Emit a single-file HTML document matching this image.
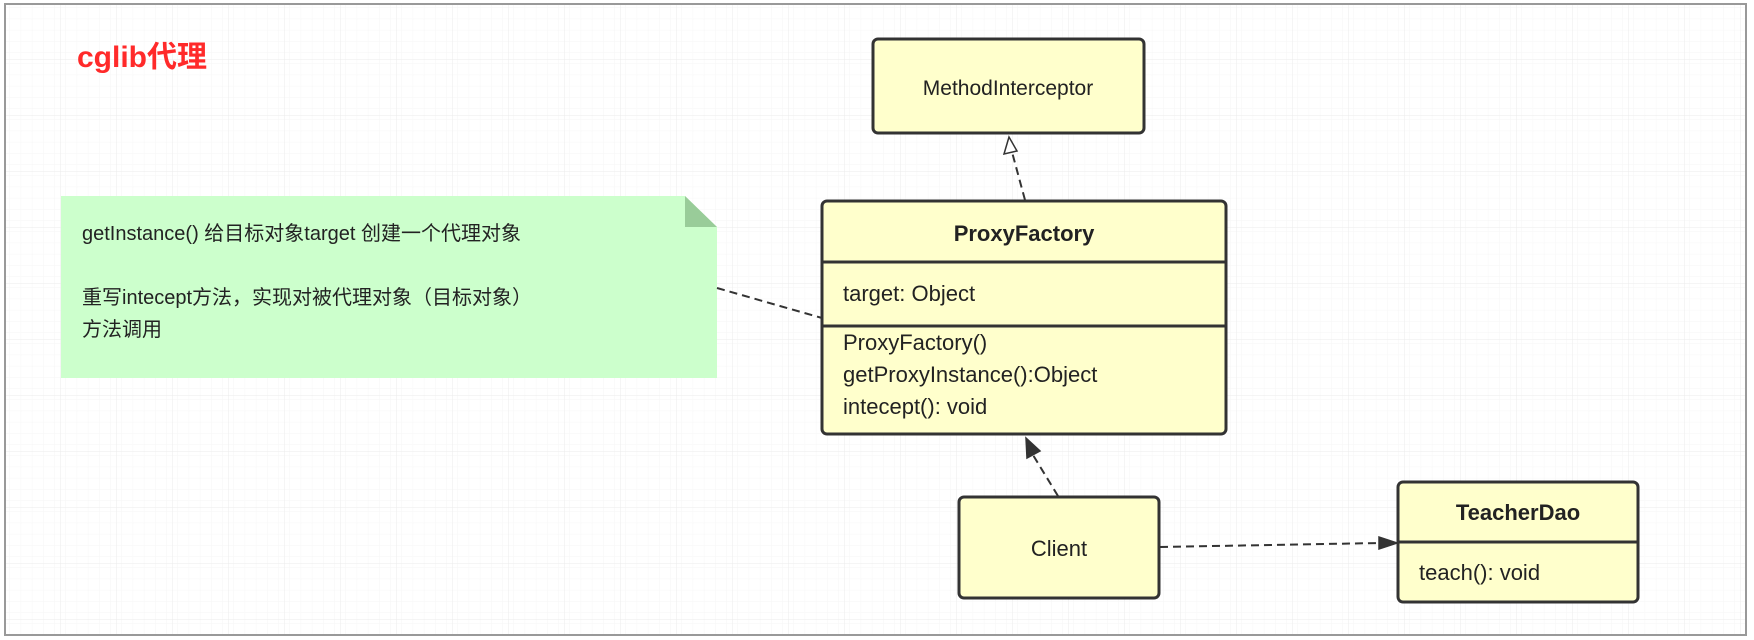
<!DOCTYPE html>
<html><head><meta charset="utf-8"><style>
html,body{margin:0;padding:0;background:#fff;}
svg{display:block;}
text{font-family:"Liberation Sans","Noto Sans CJK SC",sans-serif;fill:#222;}
</style></head><body>
<svg width="1754" height="640" viewBox="0 0 1754 640" xmlns="http://www.w3.org/2000/svg">
<defs>
<pattern id="minor" width="11.2" height="11.2" patternUnits="userSpaceOnUse" x="5" y="4">
<path d="M11.2 0V11.2H0" fill="none" stroke="#f6f6f6" stroke-width="1"/>
</pattern>
<pattern id="major" width="56" height="56" patternUnits="userSpaceOnUse" x="5" y="4">
<rect width="56" height="56" fill="url(#minor)"/>
<path d="M56 0V56H0" fill="none" stroke="#ebebeb" stroke-width="1"/>
</pattern>
</defs>
<rect x="5" y="4" width="1741" height="631" fill="url(#major)" stroke="#999" stroke-width="2"/>

<text x="77" y="67" font-size="30" font-weight="bold" style="fill:#ff2a2a">cglib代理</text>

<!-- note -->
<path d="M61 196H685L717 227V378H61Z" fill="#ccffcc"/>
<path d="M685 196L717 227H685Z" fill="#99cc99"/>
<text x="82" y="240" font-size="20">getInstance() 给目标对象target 创建一个代理对象</text>
<text x="82" y="304" font-size="20">重写intecept方法，实现对被代理对象（目标对象）</text>
<text x="82" y="336" font-size="20">方法调用</text>
<line x1="717" y1="288" x2="822" y2="318" stroke="#333" stroke-width="2" stroke-dasharray="8,5"/>

<!-- MethodInterceptor -->
<rect x="873" y="39" width="271" height="94" rx="5" fill="#ffffcc" stroke="#333" stroke-width="3"/>
<text x="1008" y="95" font-size="21" text-anchor="middle">MethodInterceptor</text>

<!-- arrow PF -> MI (hollow) -->
<line x1="1025" y1="200" x2="1012" y2="152" stroke="#333" stroke-width="2" stroke-dasharray="8,5"/>
<path d="M1009 137L1004 154L1017 151Z" fill="#fff" stroke="#333" stroke-width="1.5"/>

<!-- ProxyFactory -->
<rect x="822" y="201" width="404" height="233" rx="5" fill="#ffffcc" stroke="#333" stroke-width="3"/>
<line x1="822" y1="262" x2="1226" y2="262" stroke="#333" stroke-width="3"/>
<line x1="822" y1="326" x2="1226" y2="326" stroke="#333" stroke-width="3"/>
<text x="1024" y="241" font-size="22" font-weight="bold" text-anchor="middle">ProxyFactory</text>
<text x="843" y="301" font-size="22">target: Object</text>
<text x="843" y="350" font-size="22">ProxyFactory()</text>
<text x="843" y="382" font-size="22">getProxyInstance():Object</text>
<text x="843" y="414" font-size="22">intecept(): void</text>

<!-- Client -> PF -->
<line x1="1058" y1="496" x2="1033" y2="455" stroke="#333" stroke-width="2" stroke-dasharray="8,5"/>
<path d="M1026 438L1027 458L1040 451Z" fill="#333" stroke="#333" stroke-width="1.5"/>

<!-- Client -->
<rect x="959" y="497" width="200" height="101" rx="5" fill="#ffffcc" stroke="#333" stroke-width="3"/>
<text x="1059" y="556" font-size="22" text-anchor="middle">Client</text>

<!-- Client -> TeacherDao -->
<line x1="1160" y1="547" x2="1380" y2="543" stroke="#333" stroke-width="2" stroke-dasharray="8,5"/>
<path d="M1397 543L1379 537L1379 549Z" fill="#333" stroke="#333" stroke-width="1.5"/>

<!-- TeacherDao -->
<rect x="1398" y="482" width="240" height="120" rx="5" fill="#ffffcc" stroke="#333" stroke-width="3"/>
<line x1="1398" y1="542" x2="1638" y2="542" stroke="#333" stroke-width="3"/>
<text x="1518" y="520" font-size="22" font-weight="bold" text-anchor="middle">TeacherDao</text>
<text x="1419" y="580" font-size="22">teach(): void</text>
</svg>
</body></html>
